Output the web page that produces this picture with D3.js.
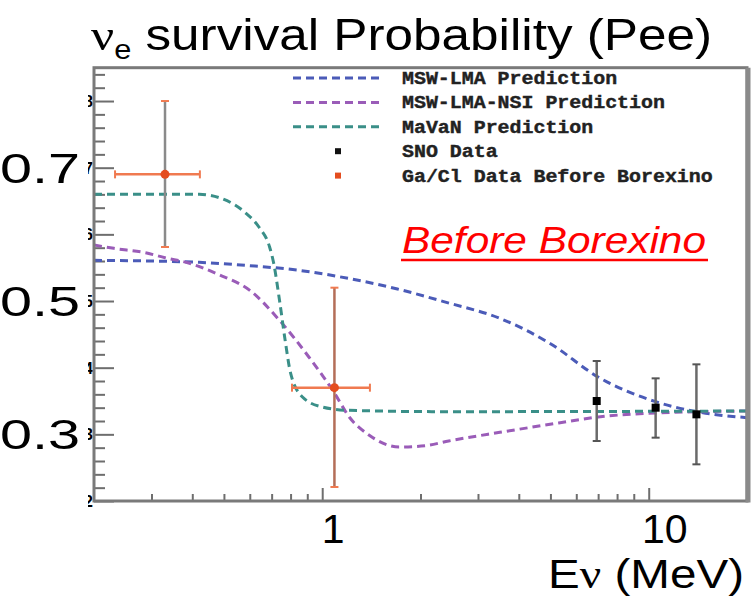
<!DOCTYPE html>
<html lang="en">
<head>
<meta charset="UTF-8" />
<title>ve survival Probability (Pee)</title>
<script src="https://d3js.org/d3.v7.min.js"></script>
<style>
  body { margin: 0; background: #fff; }
  svg { display: block; }
  .big { font-family: "Liberation Sans", Arial, sans-serif; fill: #000; }
  .legend text { font-family: "Liberation Mono", monospace; font-weight: bold; font-size: 18px; fill: #222; stroke: #222; stroke-width: 0.4; }
  .curve { fill: none; stroke-width: 3; stroke-dasharray: 8 5; }
  .tick line { stroke: #6e6e6e; stroke-width: 2; }
</style>
</head>
<body>
<svg width="755" height="597"></svg>
<script>
// prediction curves (E in MeV, survival probability)
const lmaE = [0.2, 0.3, 0.42, 0.6, 0.85, 1.2, 1.7, 2.4, 3.5, 5, 7, 10.5, 14, 20];
const lmaP = [0.561, 0.560, 0.558, 0.553, 0.546, 0.534, 0.518, 0.498, 0.474, 0.436, 0.386, 0.349, 0.334, 0.325];

const nsiE = [0.2, 0.23, 0.29, 0.33, 0.39, 0.48, 0.6, 0.74, 0.91, 1.09, 1.21, 1.39, 1.72, 2.07, 2.44, 3.5, 5.3, 7, 10.5, 20];
const nsiP = [0.584, 0.579, 0.572, 0.565, 0.557, 0.54, 0.516, 0.471, 0.416, 0.362, 0.326, 0.299, 0.281, 0.283, 0.290, 0.303, 0.317, 0.326, 0.332, 0.335];

const mavanE = [0.2, 0.42, 0.49, 0.58, 0.64, 0.69, 0.71, 0.74, 0.77, 0.80, 0.87, 1.0, 1.2, 2.4, 20];
const mavanP = [0.660, 0.660, 0.654, 0.633, 0.611, 0.581, 0.557, 0.501, 0.441, 0.392, 0.356, 0.341, 0.336, 0.334, 0.335];

// data points
const snoE = [6.93, 10.5, 14.0];
const snoP = [0.350, 0.340, 0.330];
const snoLo = [0.290, 0.295, 0.255];
const snoHi = [0.410, 0.384, 0.405];

const gaE = [0.33, 1.09];
const gaElo = [0.232, 0.808];
const gaEhi = [0.422, 1.40];
const gaP = [0.690, 0.370];
const gaLo = [0.581, 0.221];
const gaHi = [0.800, 0.520];

const legendLabels = ["MSW-LMA Prediction", "MSW-LMA-NSI Prediction", "MaVaN Prediction", "SNO Data", "Ga/Cl Data Before Borexino"];
const yMajor = [0.2, 0.3, 0.4, 0.5, 0.6, 0.7, 0.8];
const yBigLabels = [0.7, 0.5, 0.3];
const xMajor = [1, 10];
const xMinor = [0.3, 0.4, 0.5, 0.6, 0.7, 0.8, 0.9, 2, 3, 4, 5, 6, 7, 8, 9];

const blue = "#4b5bb8", purple = "#9a5cb8", teal = "#3a8f88", orange = "#f07a50", red = "#e44d1f";

const svg = d3.select("svg");
const x = d3.scaleLog().domain([0.2, 20]).range([94, 747]);
const y = d3.scaleLinear().domain([0.2, 0.85]).range([501, 67.7]);

// axes (ticks point into the frame)
const yMinor = d3.range(22, 86, 2).map(v => v / 100).filter(v => !yMajor.some(m => Math.abs(m - v) < 1e-6));
function noDomain(g) { g.select(".domain").remove(); }
svg.append("g").attr("transform", `translate(${x.range()[0]},0)`)
  .call(d3.axisLeft(y).tickValues(yMajor).tickSize(-20).tickFormat("")).call(noDomain);
svg.append("g").attr("transform", `translate(${x.range()[0]},0)`)
  .call(d3.axisLeft(y).tickValues(yMinor).tickSize(-11).tickFormat("")).call(noDomain);
svg.append("g").attr("transform", `translate(0,${y.range()[0]})`)
  .call(d3.axisBottom(x).tickValues(xMajor).tickSize(-13).tickFormat("")).call(noDomain);
svg.append("g").attr("transform", `translate(0,${y.range()[0]})`)
  .call(d3.axisBottom(x).tickValues(xMinor).tickSize(-7).tickFormat("")).call(noDomain);

// clipped remains of the original small tick labels
svg.append("clipPath").attr("id", "cut").append("rect").attr("x", 88).attr("y", 0).attr("width", 5).attr("height", 597);
svg.append("g").attr("clip-path", "url(#cut)")
  .selectAll("text").data(yMajor).join("text")
  .attr("x", 93).attr("y", d => y(d) + 6).attr("text-anchor", "end")
  .attr("font-family", "Liberation Sans, sans-serif").attr("font-weight", "bold").attr("font-size", 16)
  .text(d => d.toFixed(1));

// curves
const line = d3.line().x(d => x(d[0])).y(d => y(d[1])).curve(d3.curveMonotoneX);
const curves = [
  { e: lmaE, p: lmaP, c: blue },
  { e: nsiE, p: nsiP, c: purple },
  { e: mavanE, p: mavanP, c: teal }
];
svg.append("g").selectAll("path").data(curves).join("path")
  .attr("class", "curve")
  .attr("stroke", d => d.c)
  .attr("d", d => line(d.e.map((e, i) => [e, d.p[i]])));

// SNO points
const sno = snoE.map((e, i) => ({ e, p: snoP[i], lo: snoLo[i], hi: snoHi[i] }));
const sg = svg.append("g");
sg.selectAll(".bar").data(sno).join("line")
  .attr("x1", d => x(d.e)).attr("x2", d => x(d.e))
  .attr("y1", d => y(d.lo)).attr("y2", d => y(d.hi))
  .attr("stroke", "#6a6a6a").attr("stroke-width", 2.5);
sg.selectAll(".cap").data(sno.flatMap(d => [[d.e, d.lo], [d.e, d.hi]])).join("line")
  .attr("x1", d => x(d[0]) - 4).attr("x2", d => x(d[0]) + 4)
  .attr("y1", d => y(d[1])).attr("y2", d => y(d[1]))
  .attr("stroke", "#555").attr("stroke-width", 2);
sg.selectAll("rect").data(sno).join("rect")
  .attr("x", d => x(d.e) - 4).attr("y", d => y(d.p) - 4)
  .attr("width", 8).attr("height", 8).attr("fill", "#000");

// Ga/Cl points
const ga = gaE.map((e, i) => ({ e, elo: gaElo[i], ehi: gaEhi[i], p: gaP[i], lo: gaLo[i], hi: gaHi[i] }));
const gg = svg.append("g");
gg.selectAll(".v").data(ga).join("line")
  .attr("x1", d => x(d.e)).attr("x2", d => x(d.e))
  .attr("y1", d => y(d.lo)).attr("y2", d => y(d.hi))
  .attr("stroke", (d, i) => i === 0 ? "#8a8a8a" : "#b46e58").attr("stroke-width", 2.5);
gg.selectAll(".vc").data(ga.flatMap(d => [[d.e, d.lo], [d.e, d.hi]])).join("line")
  .attr("x1", d => x(d[0]) - 4).attr("x2", d => x(d[0]) + 4)
  .attr("y1", d => y(d[1])).attr("y2", d => y(d[1]))
  .attr("stroke", orange).attr("stroke-width", 2);
gg.selectAll(".h").data(ga).join("line")
  .attr("x1", d => x(d.elo)).attr("x2", d => x(d.ehi))
  .attr("y1", d => y(d.p)).attr("y2", d => y(d.p))
  .attr("stroke", orange).attr("stroke-width", 2.5);
gg.selectAll(".hc").data(ga.flatMap(d => [[d.elo, d.p], [d.ehi, d.p]])).join("line")
  .attr("x1", d => x(d[0])).attr("x2", d => x(d[0]))
  .attr("y1", d => y(d[1]) - 4).attr("y2", d => y(d[1]) + 4)
  .attr("stroke", orange).attr("stroke-width", 2);
gg.selectAll("circle").data(ga).join("circle")
  .attr("cx", d => x(d.e)).attr("cy", d => y(d.p)).attr("r", 4.5).attr("fill", red);

// frame
const [fx0, fx1] = x.range(), [fy0, fy1] = y.range();
svg.append("rect").attr("x", fx0).attr("y", fy1).attr("width", fx1 - fx0).attr("height", fy0 - fy1)
  .attr("fill", "none").attr("stroke", "#7a7a7a").attr("stroke-width", 3);
svg.append("line").attr("x1", fx1 + 1).attr("x2", fx1 + 1).attr("y1", fy1).attr("y2", fy0 + 1.5)
  .attr("stroke", "#8a8a8a").attr("stroke-width", 5);

// legend
const lg = svg.append("g").attr("class", "legend");
const rowY = i => 78 + 24.4 * i;
[blue, purple, teal].forEach((c, i) => {
  lg.append("line").attr("x1", 293).attr("x2", 384).attr("y1", rowY(i)).attr("y2", rowY(i))
    .attr("stroke", c).attr("stroke-width", 3).attr("stroke-dasharray", "8 5");
});
lg.append("rect").attr("x", 335).attr("y", rowY(3) - 3).attr("width", 6).attr("height", 6).attr("fill", "#111");
lg.append("rect").attr("x", 335).attr("y", rowY(4) - 3).attr("width", 6).attr("height", 6).attr("fill", red);
lg.selectAll("text").data(legendLabels).join("text")
  .attr("x", 402).attr("y", (d, i) => rowY(i) + 6)
  .attr("textLength", d => d.length * 11.95).attr("lengthAdjust", "spacingAndGlyphs")
  .text(d => d);

// big overlay texts
const title = svg.append("text").attr("class", "big").attr("x", 91).attr("y", 50)
  .attr("font-size", 45).attr("textLength", 621).attr("lengthAdjust", "spacingAndGlyphs");
title.append("tspan").attr("font-family", "Liberation Serif, serif").text("\u03bd");
title.append("tspan").attr("font-size", 27).attr("dy", 9).text("e");
title.append("tspan").attr("dy", -9).text(" survival Probability (Pee)");

svg.selectAll(".ylab").data(yBigLabels).join("text").attr("class", "big ylab")
  .attr("x", 0).attr("y", d => y(d) + 15).attr("font-size", 43)
  .attr("textLength", 80).attr("lengthAdjust", "spacingAndGlyphs")
  .text(d => d.toFixed(1));

svg.selectAll(".xlab").data(xMajor).join("text").attr("class", "big xlab")
  .attr("x", d => x(d) + (d === 1 ? 11 : 16)).attr("y", 543).attr("text-anchor", "middle")
  .attr("font-size", 41)
  .text(d => d);

const ex = svg.append("text").attr("class", "big").attr("x", 548).attr("y", 588)
  .attr("font-size", 41).attr("textLength", 196).attr("lengthAdjust", "spacingAndGlyphs");
ex.append("tspan").text("E");
ex.append("tspan").attr("font-family", "Liberation Serif, serif").text("\u03bd");
ex.append("tspan").text(" (MeV)");

svg.append("text").attr("x", 402).attr("y", 253)
  .attr("font-family", "Liberation Sans, Arial, sans-serif").attr("font-style", "italic")
  .attr("font-size", 37).attr("fill", "#ff0000")
  .attr("textLength", 304).attr("lengthAdjust", "spacingAndGlyphs")
  .text("Before Borexino");
svg.append("line").attr("x1", 401).attr("x2", 708).attr("y1", 260).attr("y2", 260)
  .attr("stroke", "#ff0000").attr("stroke-width", 2.5);
</script>
</body>
</html>
